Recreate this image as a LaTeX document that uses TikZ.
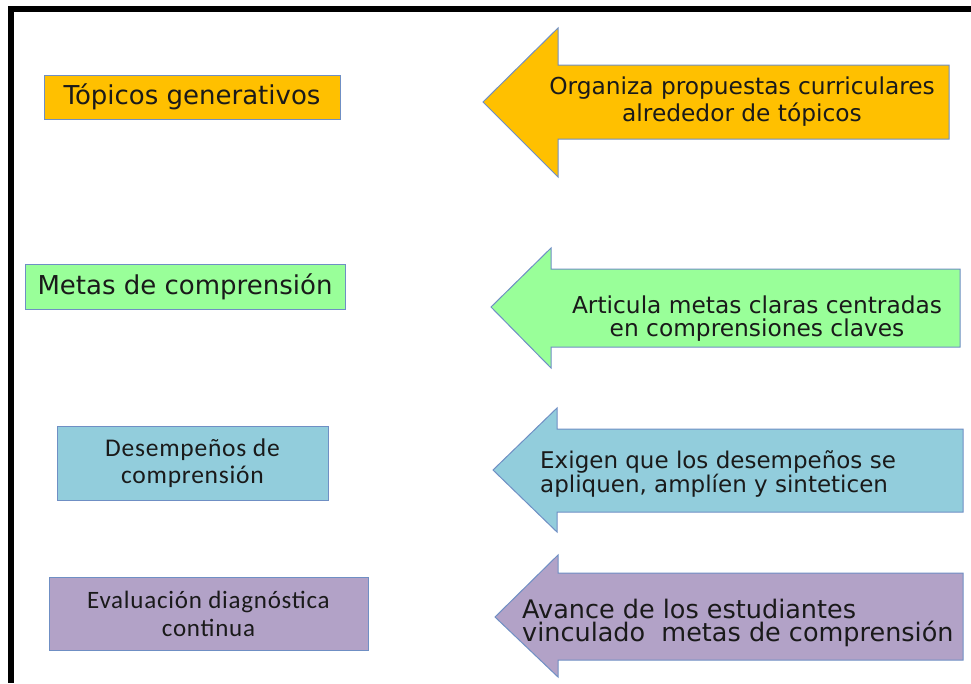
\documentclass[tikz,border=0pt]{standalone}
\usepackage{fontspec}
\setmainfont{DejaVu Sans}
\newfontfamily\calib[LetterSpace=3]{Carlito}
\definecolor{corange}{HTML}{FFC000}
\definecolor{cgreen}{HTML}{99FF99}
\definecolor{cblue}{HTML}{92CDDC}
\definecolor{cpurple}{HTML}{B2A2C7}
\definecolor{cborder}{HTML}{6F8FC4}
\definecolor{ctext}{HTML}{1A1A1A}
\tikzset{
  box/.style={draw=cborder, line width=1pt, inner sep=0pt, text=ctext, align=center},
  arrowshape/.style={draw=cborder, line width=1pt},
  label/.style={inner sep=0pt, text=ctext},
}
\begin{document}
\begin{tikzpicture}[x=1pt,y=-1pt]
\useasboundingbox (0,0) rectangle (971,683);
% frame
\fill[black] (8,6) rectangle (971,12);
\fill[black] (8,6) rectangle (14,683);
% left boxes
\node[box, fill=corange, minimum width=296, minimum height=44, font=\fontsize{26}{28}\selectfont] (b1) at (192,97)
  {Tópicos generativos};
\node[box, fill=cgreen, minimum width=320, minimum height=45, font=\fontsize{26}{28}\selectfont] (b2) at (185,286.5)
  {Metas de comprensión};
\node[box, fill=cblue, minimum width=271, minimum height=74, font=\calib\fontsize{25.5}{27}\selectfont] (b3) at (192.5,463)
  {Desempeños de\\ comprensión};
\node[box, fill=cpurple, minimum width=319, minimum height=73, font=\calib\fontsize{25}{28}\selectfont] (b4) at (208.5,613.5)
  {Evaluación diagnóstica\\ continua};
% arrows
\draw[arrowshape, fill=corange] (483,102) -- (558,28) -- (558,65) -- (949,65) -- (949,139) -- (558,139) -- (558,177) -- cycle;
\draw[arrowshape, fill=cgreen] (491,307) -- (551,248) -- (551,269) -- (960,269) -- (960,347) -- (551,347) -- (551,368) -- cycle;
\draw[arrowshape, fill=cblue] (493,470) -- (557,408) -- (557,429) -- (963,429) -- (963,512) -- (557,512) -- (557,532) -- cycle;
\draw[arrowshape, fill=cpurple] (495,617) -- (558,555) -- (558,573) -- (963,573) -- (963,660) -- (558,660) -- (558,677) -- cycle;
% arrow texts
\node[label, align=center, font=\fontsize{23.3}{27}\selectfont] (t1) at (742,102)
  {Organiza propuestas curriculares\\ alrededor de tópicos};
\node[label, align=center, font=\fontsize{23.3}{23}\selectfont] (t2) at (757,319)
  {Articula metas claras centradas\\ en comprensiones claves};
\node[label, align=left, anchor=west, font=\fontsize{23}{20.5}\selectfont] (t3) at (540,474)
  {Exigen que los desempeños se\\ apliquen, amplíen y sinteticen};
\node[label, align=left, anchor=west, font=\fontsize{25.5}{23}\selectfont] (t4) at (522,623)
  {Avance de los estudiantes\\ vinculado\ \ metas de comprensión};
\end{tikzpicture}
\end{document}
